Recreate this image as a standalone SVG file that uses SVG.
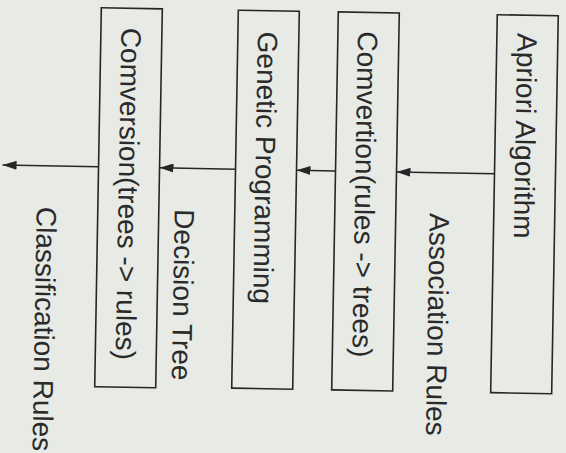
<svg xmlns="http://www.w3.org/2000/svg" width="566" height="453" viewBox="0 0 566 453">
  <style>
    .box { fill: none; stroke: #262626; stroke-width: 1.6; }
    .lbl { font-family: "Liberation Sans", Arial, sans-serif; font-size: 28px; fill: #2a2a2a; }
    .conn { stroke: #262626; stroke-width: 1.5; fill: none; marker-end: url(#arrow); }
  </style>
  <defs>
    <marker id="arrow" viewBox="0 0 14 9" refX="14" refY="4.5" markerUnits="userSpaceOnUse" markerWidth="14" markerHeight="9" orient="auto">
      <path d="M0,0 L14,4.5 L0,9 z" fill="#262626"/>
    </marker>
  </defs>
  <rect x="0" y="0" width="566" height="453" fill="#e7eae5"/>
  <g transform="rotate(1 283 200)">
    <g id="connectors">
      <line class="conn" x1="494" y1="170" x2="396" y2="170"/>
      <line class="conn" x1="335" y1="170" x2="296" y2="170"/>
      <line class="conn" x1="235" y1="170" x2="159" y2="170"/>
      <line class="conn" x1="98" y1="170" x2="2" y2="170"/>
    </g>
    <g id="apriori">
      <rect class="box" x="494" y="11" width="61" height="378"/>
      <text class="lbl" transform="translate(514.5 29) rotate(90)">Apriori Algorithm</text>
    </g>
    <g id="comvertion">
      <rect class="box" x="335" y="11" width="61" height="378"/>
      <text class="lbl" transform="translate(355 30) rotate(90)">Comvertion(rules -&gt; trees)</text>
    </g>
    <g id="genetic">
      <rect class="box" x="235" y="11" width="61" height="378"/>
      <text class="lbl" transform="translate(255 32) rotate(90)">Genetic Programming</text>
    </g>
    <g id="conversion">
      <rect class="box" x="98" y="11" width="61" height="379"/>
      <text class="lbl" transform="translate(118.5 30.5) rotate(90)">Comversion(trees -&gt; rules)</text>
    </g>
    <g id="labels">
      <text class="lbl" transform="translate(430 210.5) rotate(90)">Association Rules</text>
      <text class="lbl" transform="translate(175 211) rotate(90)">Decision Tree</text>
      <text class="lbl" transform="translate(37 211) rotate(90)">Classification Rules</text>
    </g>
  </g>
</svg>
